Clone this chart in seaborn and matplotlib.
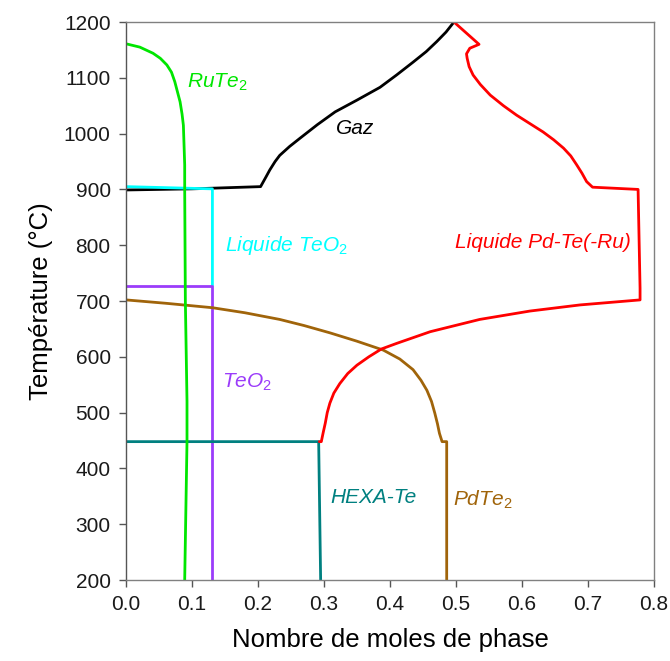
import matplotlib
matplotlib.use("Agg")
import matplotlib.pyplot as plt
import seaborn as sns
import pandas as pd

# ---- data ----
gaz_x = [0.0, 0.10, 0.204, 0.212, 0.218, 0.226, 0.233, 0.248, 0.264, 0.29, 0.317, 0.35,
         0.385, 0.41, 0.435, 0.455, 0.471, 0.485, 0.497]
gaz_T = [899, 901, 905, 922, 935, 950, 961, 977, 992, 1016, 1039, 1060,
         1083, 1105, 1128, 1147, 1165, 1182, 1200]

teo2liq_x = [0.0, 0.131, 0.131]
teo2liq_T = [905, 901, 727]

teo2_x = [0.0, 0.131, 0.131]
teo2_T = [727, 727, 200]

hexa_x = [0.0, 0.292, 0.295]
hexa_T = [448, 448, 200]

pdte2_x = [0.0, 0.06, 0.131, 0.18, 0.233, 0.27, 0.309, 0.35, 0.39, 0.415, 0.435, 0.447,
           0.456, 0.463, 0.468, 0.472, 0.475, 0.479, 0.486, 0.486]
pdte2_T = [702, 696, 688, 679, 667, 656, 643, 628, 612, 596, 577, 558,
           540, 520, 499, 480, 463, 448, 448, 200]

liq_x = [0.497, 0.535, 0.521, 0.516, 0.517, 0.520, 0.526, 0.537, 0.552, 0.572, 0.592, 0.612,
         0.632, 0.648, 0.663, 0.674, 0.683, 0.691, 0.698, 0.707, 0.776, 0.779, 0.779,
         0.688, 0.612, 0.536, 0.461, 0.41, 0.387, 0.368, 0.35, 0.336, 0.324, 0.315,
         0.309, 0.305, 0.302, 0.299, 0.296, 0.293]
liq_T = [1200, 1160, 1153, 1143, 1135, 1120, 1105, 1088, 1069, 1050, 1033, 1018,
         1003, 989, 974, 960, 944, 929, 914, 904, 900, 723, 702,
         693, 682, 667, 645, 624, 614, 600, 585, 570, 552, 535,
         517, 500, 481, 465, 448, 448]

rute2_x = [0.0, 0.021, 0.041, 0.052, 0.062, 0.069, 0.074, 0.078, 0.082, 0.085, 0.087, 0.088,
           0.089, 0.089, 0.090, 0.0925, 0.0925, 0.089]
rute2_T = [1161, 1155, 1144, 1135, 1123, 1110, 1093, 1075, 1057, 1035, 1015, 980,
           944, 900, 700, 520, 448, 200]

labels = ["RuTe$_2$", "Gaz", "Liquide TeO$_2$", "Liquide Pd-Te(-Ru)", "TeO$_2$", "HEXA-Te", "PdTe$_2$"]
label_x = [0.092, 0.318, 0.150, 0.498, 0.146, 0.309, 0.495]
label_T = [1092, 1010, 800, 804, 555, 347, 343]

x_ticks = [0.0, 0.1, 0.2, 0.3, 0.4, 0.5, 0.6, 0.7, 0.8]
y_ticks = [200, 300, 400, 500, 600, 700, 800, 900, 1000, 1100, 1200]

# ---- style ----
sns.set_theme(style="white")
plt.rcParams["font.family"] = ["Liberation Sans", "DejaVu Sans"]
plt.rcParams["mathtext.fontset"] = "custom"
plt.rcParams["mathtext.rm"] = "Liberation Sans"
plt.rcParams["mathtext.it"] = "Liberation Sans:italic"

fig = plt.figure(figsize=(6.70, 6.61), dpi=100)
ax = fig.add_axes([0.188, 0.1225, 0.788, 0.8442])

curves = [
    (gaz_x, gaz_T, "black"),
    (teo2liq_x, teo2liq_T, "#00FFFF"),
    (teo2_x, teo2_T, "#9B3CFA"),
    (hexa_x, hexa_T, "#008080"),
    (pdte2_x, pdte2_T, "#A0640A"),
    (liq_x, liq_T, "#FF0000"),
    (rute2_x, rute2_T, "#00E600"),
]
for xs, ts, c in curves:
    df = pd.DataFrame({"x": xs, "T": ts})
    sns.lineplot(data=df, x="x", y="T", sort=False, estimator=None, color=c,
                 linewidth=2.0, ax=ax)

label_colors = ["#00E600", "black", "#00FFFF", "#FF0000", "#9B3CFA", "#008080", "#A0640A"]
for t, lx, ly, c in zip(labels, label_x, label_T, label_colors):
    ax.text(lx, ly, t, color=c, fontsize=15, fontstyle="italic", ha="left", va="center")

ax.set_xlim(0, 0.8)
ax.set_ylim(200, 1200)
ax.set_xticks(x_ticks)
ax.set_yticks(y_ticks)
ax.set_xticklabels([f"{v:.1f}" for v in x_ticks])
ax.set_yticklabels([str(v) for v in y_ticks])
ax.tick_params(axis="both", direction="out", length=5, width=1, color="#555555",
               labelsize=15, labelcolor="#1a1a1a", left=True, bottom=True, pad=6)
for s in ax.spines.values():
    s.set_color("#808080")
    s.set_linewidth(1)
ax.spines["left"].set_color("#555555")
ax.set_xlabel("Nombre de moles de phase", fontsize=18.5, labelpad=10, color="black")
ax.set_ylabel("Température (°C)", fontsize=18.5, labelpad=8, color="black")

fig.savefig("out.png", dpi=100)
